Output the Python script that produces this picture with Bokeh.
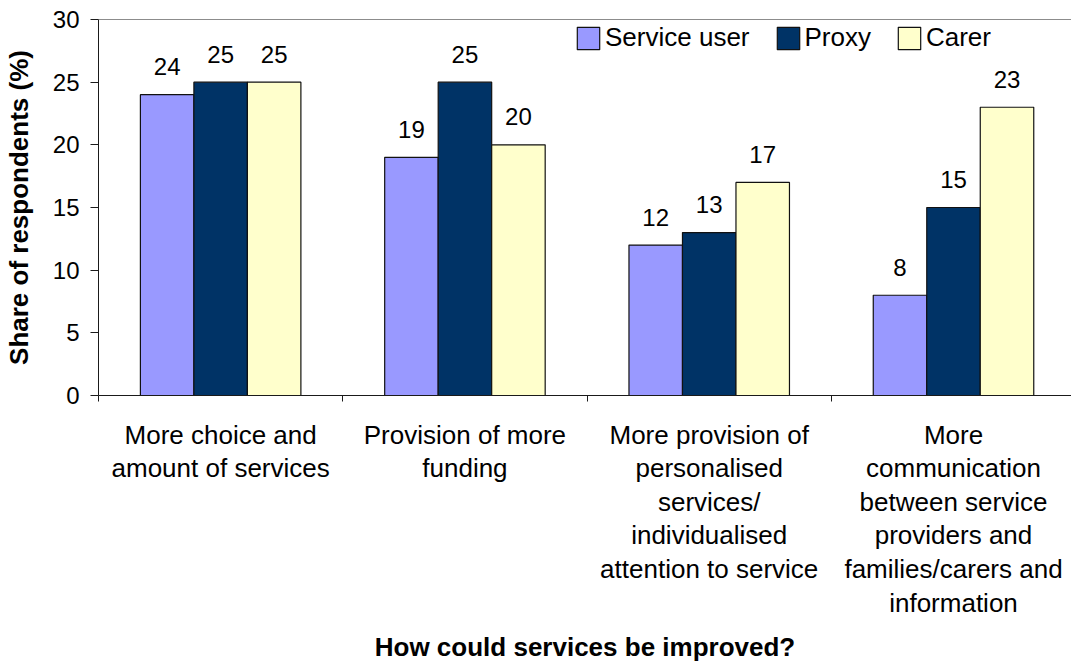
from bokeh.plotting import figure
from bokeh.models import ColumnDataSource, Range1d, FixedTicker, Span, Legend, LegendItem
from bokeh.embed import file_html
from bokeh.resources import INLINE
from bokeh.core.properties import value
from bokeh.transform import dodge

categories = [
    "More choice and\namount of services",
    "Provision of more\nfunding",
    "More provision of\npersonalised\nservices/\nindividualised\nattention to service",
    "More\ncommunication\nbetween service\nproviders and\nfamilies/carers and\ninformation",
]
series = ["Service user", "Proxy", "Carer"]
service_user = [24, 19, 12, 8]
proxy = [25, 25, 13, 15]
carer = [25, 20, 17, 23]
y_ticks = [0, 5, 10, 15, 20, 25, 30]
colors = ["#9999FF", "#003366", "#FFFFCC"]

FONT = "Liberation Sans"
idx = list(range(len(categories)))
src = ColumnDataSource(dict(
    idx=idx,
    su=service_user, px=proxy, ca=carer,
    su_l=[str(v) for v in service_user],
    px_l=[str(v) for v in proxy],
    ca_l=[str(v) for v in carer],
))

p = figure(width=1071, height=664, output_backend="svg", toolbar_location=None,
           x_range=Range1d(-0.5, 3.483), y_range=Range1d(0, 30),
           min_border_left=98, min_border_right=0, min_border_top=19, min_border_bottom=269)
p.background_fill_color = "white"
p.border_fill_color = "white"
p.outline_line_color = None
p.xgrid.visible = False
p.ygrid.visible = False

w = 0.219
renderers = []
for col, off, color in zip(["su", "px", "ca"], [-w, 0, w], colors):
    r = p.vbar(x=dodge("idx", off, range=p.x_range), top=col, width=w, bottom=0,
               source=src, fill_color=color, line_color="#111111", line_width=1.2)
    renderers.append(r)
    p.text(x=dodge("idx", off, range=p.x_range), y=col, text=col + "_l", source=src,
           text_align="center", text_baseline="alphabetic", y_offset=-28,
           text_font=value(FONT), text_font_size="24px", text_color="black")

p.add_layout(Span(location=30, dimension="width", line_color="#1a1a1a", line_width=1))

xa = p.xaxis[0]
xa.ticker = FixedTicker(ticks=idx, minor_ticks=[i - 0.5 for i in idx] + [idx[-1] + 0.5])
xa.major_label_overrides = {i: c for i, c in zip(idx, categories)}
xa.major_tick_out = 0
xa.major_tick_in = 0
xa.major_tick_line_color = None
xa.minor_tick_out = 6
xa.minor_tick_in = 0
xa.minor_tick_line_color = "#1a1a1a"
xa.axis_line_color = "#1a1a1a"
xa.major_label_standoff = 18
xa.major_label_text_font = FONT
xa.major_label_text_font_size = "26px"
xa.major_label_text_line_height = 1.12
xa.major_label_text_color = "black"
xa.axis_label = "How could services be improved?"
xa.axis_label_text_font = FONT
xa.axis_label_text_font_style = "bold"
xa.axis_label_text_font_size = "26px"
xa.axis_label_standoff = 11
xa.axis_label_text_color = "black"

ya = p.yaxis[0]
ya.ticker = FixedTicker(ticks=y_ticks, minor_ticks=[])
ya.major_tick_out = 8
ya.major_tick_in = 0
ya.major_tick_line_color = "#1a1a1a"
ya.minor_tick_line_color = None
ya.axis_line_color = "#1a1a1a"
ya.major_label_standoff = 11
ya.major_label_text_font = FONT
ya.major_label_text_font_size = "24px"
ya.major_label_text_color = "black"
ya.axis_label = "Share of respondents (%)"
ya.axis_label_text_font = FONT
ya.axis_label_text_font_style = "bold"
ya.axis_label_text_font_size = "26px"
ya.axis_label_standoff = 16
ya.axis_label_text_color = "black"

legend = Legend(items=[LegendItem(label=s, renderers=[r]) for s, r in zip(series, renderers)],
                orientation="horizontal", location=(476, 342),
                glyph_width=28, glyph_height=28, label_standoff=3, spacing=24,
                padding=0, margin=0, border_line_color=None, background_fill_alpha=0,
                label_text_font=FONT, label_text_font_size="26px", label_height=28,
                label_text_color="black")
p.add_layout(legend)

open("out.html", "w").write(file_html(p, INLINE))
